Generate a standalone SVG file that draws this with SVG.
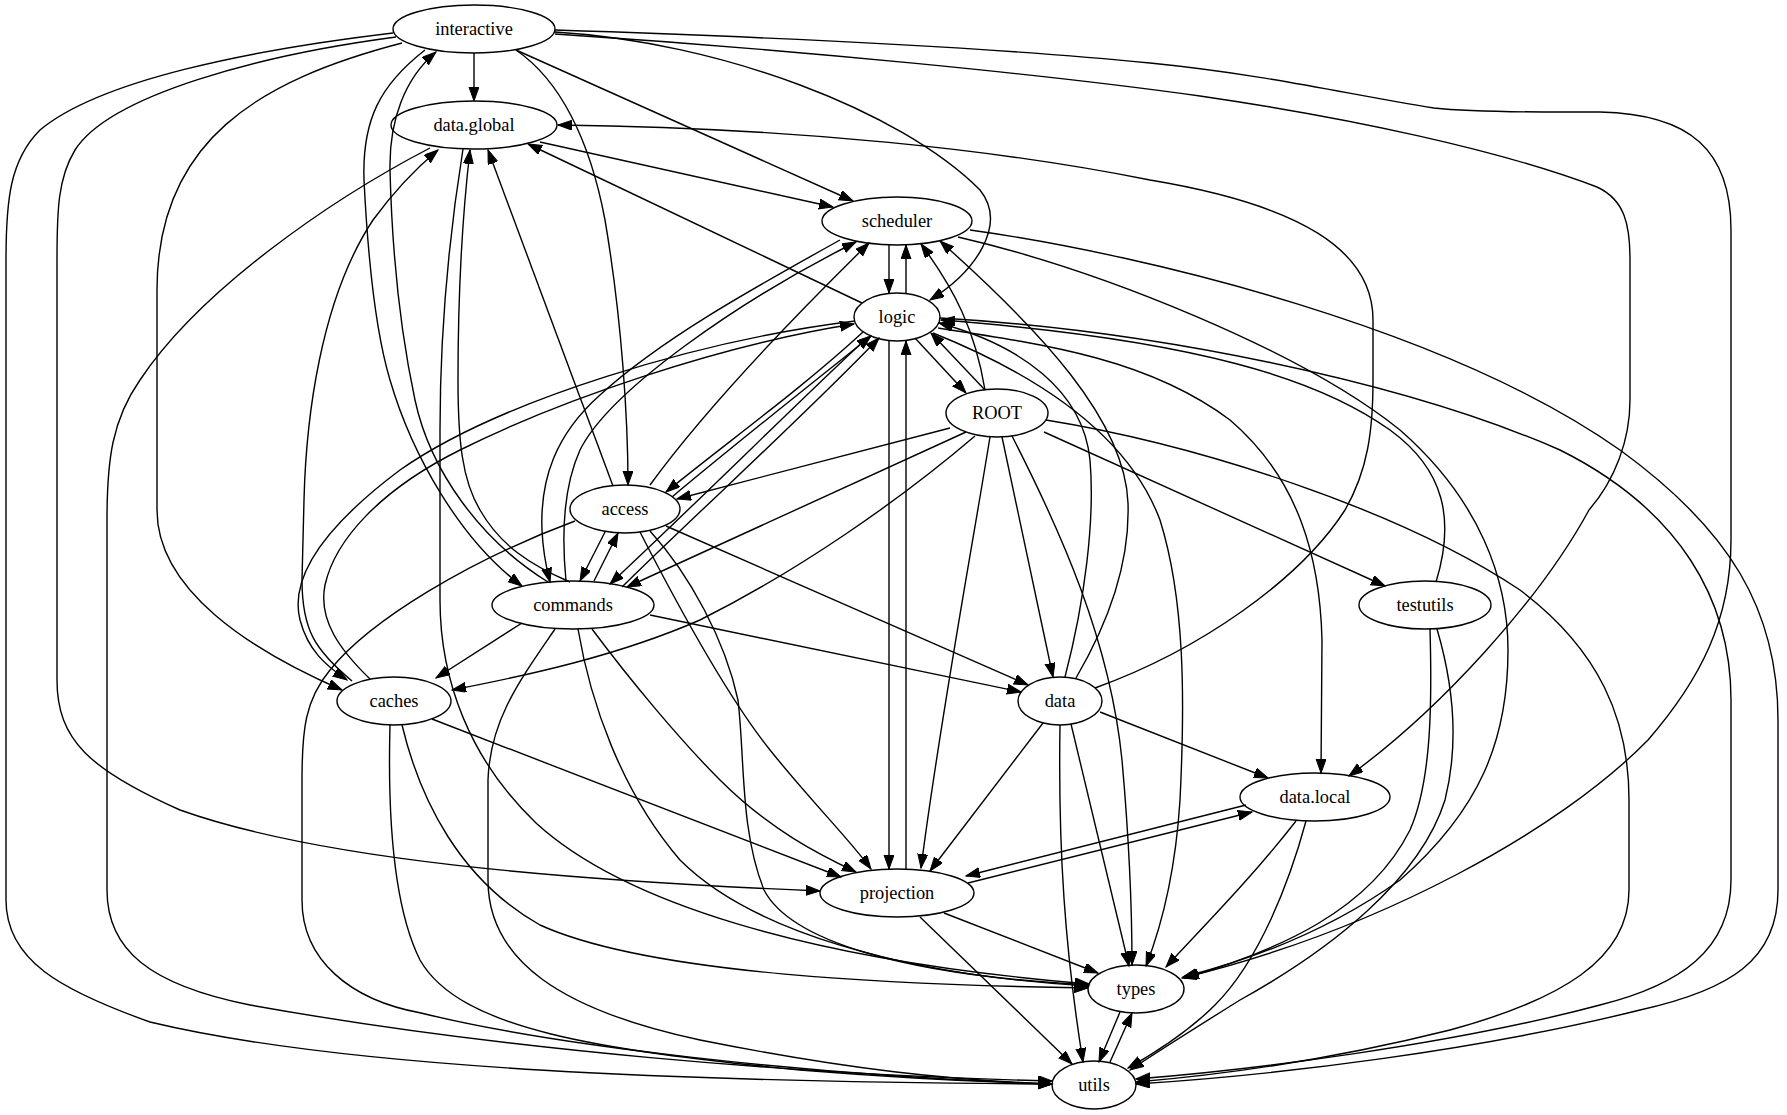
<svg xmlns="http://www.w3.org/2000/svg" width="1787" height="1115" viewBox="0 0 1787 1115">
<style>
.n ellipse{fill:none;stroke:#000;stroke-width:1.4}
.n text{font-family:"Liberation Serif","Times New Roman",serif;font-size:18.4px;text-anchor:middle;fill:#000}
#edges path{fill:none;stroke:#000;stroke-width:1.4;marker-end:url(#ah)}
</style>
<defs>
<marker id="ah" markerWidth="16" markerHeight="12" refX="14" refY="5" orient="auto" markerUnits="userSpaceOnUse"><path d="M0,0 L14,5 L0,10 z" fill="#000" stroke="#000" stroke-width="1"/></marker>
</defs>
<rect width="1787" height="1115" fill="#fff"/>
<g id="edges">
<path d="M474,53 L474,101"/>
<path d="M516,50 L853,201"/>
<path d="M555,32 C720,42 900,110 980,190 C1008,225 975,272 930,300"/>
<path d="M516,50 C560,80 590,140 605,220 C622,320 628,420 628,485"/>
<path d="M425,50 C380,85 362,120 364,180 C368,260 375,330 390,380 C412,455 460,540 522,586"/>
<path d="M548,582 C480,540 430,470 415,400 C400,330 392,250 390,170 C389,120 405,78 436,52"/>
<path d="M402,43 C260,80 157,140 157,290 L157,510 C157,590 250,650 342,690"/>
<path d="M396,37 C260,55 110,95 75,150 C58,178 57,210 57,260 L57,680 C57,740 90,770 180,810 C320,860 560,880 820,891"/>
<path d="M393,33 C250,50 100,80 40,130 C10,160 6,200 6,260 L6,900 C6,960 60,990 150,1022 C350,1070 700,1082 1052,1084"/>
<path d="M555,34 C800,50 1050,75 1200,96 C1350,118 1500,150 1597,187 C1625,200 1630,225 1630,260 L1630,400 C1630,440 1615,480 1589,510 C1540,600 1440,710 1349,776"/>
<path d="M555,30 C800,38 1000,48 1150,63 C1270,75 1350,95 1434,108 C1480,113 1550,112 1600,112 C1690,114 1731,150 1731,230 L1731,540 C1731,620 1700,680 1648,740 C1560,830 1380,930 1182,978"/>
<path d="M540,142 L833,207"/>
<path d="M430,148 C330,200 200,290 140,380 C112,420 107,460 107,520 L107,890 C107,950 150,985 250,1005 C500,1050 800,1075 1052,1081"/>
<path d="M463,149 C450,230 440,330 440,430 L440,600 C440,680 470,760 536,823 C620,900 800,960 1089,984"/>
<path d="M570,582 C530,565 500,545 480,510 C462,480 458,440 458,380 C458,280 463,210 470,150"/>
<path d="M613,486 L488,150"/>
<path d="M862,303 L528,144"/>
<path d="M1095,688 C1200,650 1300,580 1345,510 C1368,470 1373,430 1373,380 L1373,320 C1373,250 1300,205 1150,180 C1000,150 800,128 558,125"/>
<path d="M889,245 L889,293"/>
<path d="M906,293 L906,245"/>
<path d="M840,240 C750,290 660,340 600,395 C555,435 540,480 542,530 C543,555 547,570 550,582"/>
<path d="M566,581 C562,540 562,490 580,450 C610,390 740,300 856,242"/>
<path d="M650,485 C690,430 760,350 869,243"/>
<path d="M985,390 C975,330 955,290 921,244"/>
<path d="M1076,678 C1110,620 1130,560 1128,503 C1125,420 1040,330 940,241"/>
<path d="M1065,677 C1085,600 1095,520 1090,460 C1083,390 1020,345 939,323"/>
<path d="M915,338 L966,393"/>
<path d="M985,390 L931,333"/>
<path d="M889,341 L889,869"/>
<path d="M906,869 L906,341"/>
<path d="M950,428 L677,499"/>
<path d="M966,432 L627,587"/>
<path d="M868,337 C800,400 700,500 610,584"/>
<path d="M622,587 C700,510 800,420 879,338"/>
<path d="M863,332 C800,390 730,440 666,492"/>
<path d="M672,497 C740,440 810,385 871,336"/>
<path d="M975,436 C900,500 800,570 700,620 C620,655 530,675 452,690"/>
<path d="M522,623 L436,678"/>
<path d="M1002,437 L1053,677"/>
<path d="M1012,436 C1060,530 1110,640 1122,760 C1130,850 1132,920 1132,965"/>
<path d="M990,437 C970,560 940,720 921,868"/>
<path d="M1044,432 L1385,586"/>
<path d="M1046,420 C1200,445 1400,510 1520,590 C1600,650 1629,720 1629,800 L1629,890 C1629,960 1560,1000 1450,1030 C1330,1060 1220,1075 1136,1082"/>
<path d="M1436,582 C1455,520 1445,470 1390,430 C1320,380 1200,340 941,320"/>
<path d="M940,318 C1150,330 1400,380 1560,450 C1680,510 1731,600 1731,700 L1731,880 C1731,950 1680,985 1600,1005 C1450,1045 1250,1070 1136,1079"/>
<path d="M970,230 C1150,255 1450,330 1620,450 C1730,530 1778,610 1778,720 L1778,890 C1778,960 1730,990 1640,1010 C1480,1050 1280,1075 1136,1084"/>
<path d="M958,237 C1100,270 1300,350 1400,430 C1480,500 1508,580 1508,650 C1508,740 1480,810 1400,880 C1330,930 1250,960 1183,977"/>
<path d="M938,328 C1050,345 1150,360 1230,420 C1300,480 1320,560 1322,640 L1321,773"/>
<path d="M933,333 C1050,380 1130,440 1160,520 C1185,600 1185,700 1180,800 C1175,880 1160,930 1146,966"/>
<path d="M1100,712 L1268,778"/>
<path d="M1043,723 L930,871"/>
<path d="M968,883 L1252,812"/>
<path d="M1246,805 L966,876"/>
<path d="M1296,821 C1250,880 1200,930 1166,967"/>
<path d="M1306,821 C1290,880 1260,960 1215,1005 C1190,1030 1160,1050 1128,1068"/>
<path d="M944,913 L1098,973"/>
<path d="M920,917 L1072,1064"/>
<path d="M1120,1012 L1099,1062"/>
<path d="M1110,1062 L1132,1013"/>
<path d="M1060,725 C1058,850 1065,950 1083,1062"/>
<path d="M1071,724 L1129,966"/>
<path d="M1430,629 C1432,700 1432,780 1410,830 C1370,910 1280,950 1185,978"/>
<path d="M1437,629 C1452,680 1460,740 1445,800 C1420,880 1330,950 1240,1000 C1200,1025 1160,1050 1130,1070"/>
<path d="M650,615 L1021,692"/>
<path d="M666,526 L1028,685"/>
<path d="M605,532 L580,581"/>
<path d="M594,581 L618,533"/>
<path d="M640,532 C680,610 730,700 770,750 C810,800 850,840 871,869"/>
<path d="M650,531 C690,575 725,640 738,700 C745,760 740,830 764,890 C790,940 900,975 1089,985"/>
<path d="M575,521 C470,560 370,620 330,670 C305,700 302,730 302,780 L302,900 C302,960 350,1000 421,1013 C550,1045 800,1075 1052,1084"/>
<path d="M592,629 C630,680 680,740 720,780 C770,830 820,855 856,872"/>
<path d="M578,629 C590,700 620,790 680,860 C750,930 900,975 1089,986"/>
<path d="M555,629 C520,680 490,720 488,780 L488,880 C488,960 560,1010 700,1040 C850,1070 950,1080 1052,1084"/>
<path d="M432,719 L841,877"/>
<path d="M402,725 C420,800 460,880 540,925 C650,975 900,985 1088,988"/>
<path d="M390,725 C388,800 390,900 420,960 C460,1030 600,1050 800,1070 C900,1078 980,1082 1052,1084"/>
<path d="M352,681 C315,650 302,630 302,580 L304,500 C306,420 320,300 373,220 C395,190 420,165 438,150"/>
<path d="M855,321 C700,340 500,400 400,470 C320,530 290,580 300,620 C308,650 325,665 347,680"/>
<path d="M370,679 C340,650 318,620 325,585 C335,540 380,490 460,450 C560,400 720,345 854,324"/>
</g>
<g id="interactive" class="n"><ellipse cx="474" cy="29" rx="81" ry="24"/><text x="474" y="35">interactive</text></g>
<g id="data.global" class="n"><ellipse cx="474" cy="125" rx="83" ry="24"/><text x="474" y="131">data.global</text></g>
<g id="scheduler" class="n"><ellipse cx="897" cy="221" rx="75" ry="24"/><text x="897" y="227">scheduler</text></g>
<g id="logic" class="n"><ellipse cx="897" cy="317" rx="43" ry="24"/><text x="897" y="323">logic</text></g>
<g id="ROOT" class="n"><ellipse cx="997" cy="413" rx="51" ry="24"/><text x="997" y="419">ROOT</text></g>
<g id="access" class="n"><ellipse cx="625" cy="509" rx="55" ry="24"/><text x="625" y="515">access</text></g>
<g id="commands" class="n"><ellipse cx="573" cy="605" rx="81" ry="24"/><text x="573" y="611">commands</text></g>
<g id="testutils" class="n"><ellipse cx="1425" cy="605" rx="66" ry="24"/><text x="1425" y="611">testutils</text></g>
<g id="caches" class="n"><ellipse cx="394" cy="701" rx="57" ry="24"/><text x="394" y="707">caches</text></g>
<g id="data" class="n"><ellipse cx="1060" cy="701" rx="42" ry="24"/><text x="1060" y="707">data</text></g>
<g id="data.local" class="n"><ellipse cx="1315" cy="797" rx="75" ry="24"/><text x="1315" y="803">data.local</text></g>
<g id="projection" class="n"><ellipse cx="897" cy="893" rx="77" ry="24"/><text x="897" y="899">projection</text></g>
<g id="types" class="n"><ellipse cx="1136" cy="989" rx="48" ry="24"/><text x="1136" y="995">types</text></g>
<g id="utils" class="n"><ellipse cx="1094" cy="1085" rx="42" ry="24"/><text x="1094" y="1091">utils</text></g>
</svg>
